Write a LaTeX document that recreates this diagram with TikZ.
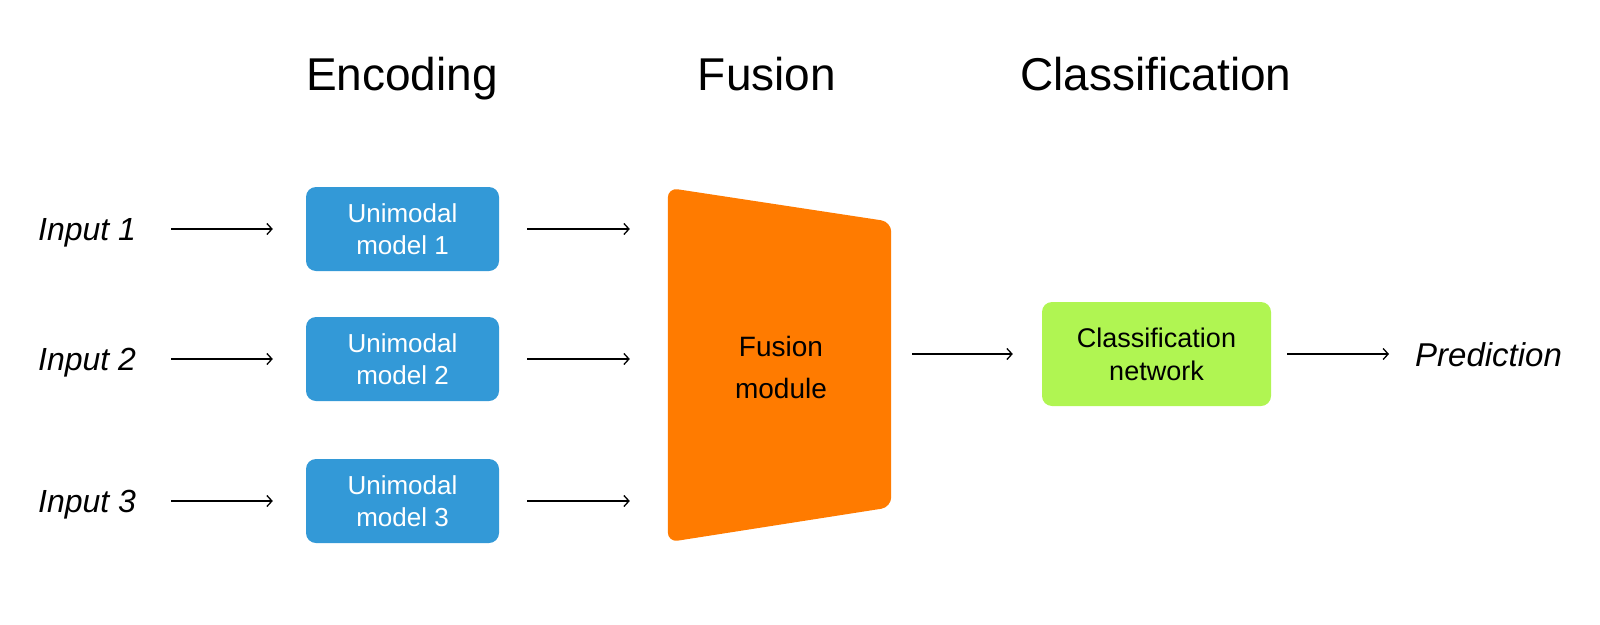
\documentclass[tikz,border=0pt]{standalone}
\usepackage{fontspec}
\setmainfont{Liberation Sans}
\usetikzlibrary{arrows.meta,calc}
\definecolor{uniblue}{RGB}{51,153,215}
\definecolor{fusorange}{RGB}{255,123,0}
\definecolor{clsgreen}{RGB}{176,245,82}
\tikzset{
  header/.style={font=\fontsize{46}{50}\selectfont, anchor=base, inner sep=0},
  inputtxt/.style={font=\fontsize{32}{36}\selectfont\itshape, anchor=base west, inner sep=0},
  unibox/.style={fill=uniblue, rounded corners=10, minimum width=193, minimum height=84, inner sep=0,
    text=white, align=center, font=\fontsize{26}{32}\selectfont},
  clsbox/.style={fill=clsgreen, rounded corners=10, minimum width=229, minimum height=104, inner sep=0,
    text=black, align=center, font=\fontsize{27}{33}\selectfont},
  arr/.style={line width=1.3, -{Straight Barb[length=5,width=11]}},
}
\begin{document}
\begin{tikzpicture}[x=1pt,y=-1pt]
\useasboundingbox (0,0) rectangle (1600,624);
% headers
\node[header] (hEnc) at (402,90) {Encoding};
\node[header] (hFus) at (767,90) {Fusion};
\node[header] (hCls) at (1156,90) {Classification};
% inputs
\node[inputtxt] (in1) at (38,240.5) {Input 1};
\node[inputtxt] (in2) at (38,370.5) {Input 2};
\node[inputtxt] (in3) at (38,512.5) {Input 3};
% unimodal boxes
\node[unibox] (b1) at (402.5,229) {Unimodal\\model 1};
\node[unibox] (b2) at (402.5,359) {Unimodal\\model 2};
\node[unibox] (b3) at (402.5,501) {Unimodal\\model 3};
% fusion module
\node[minimum width=223, minimum height=354, inner sep=0] (fus) at (779.5,365) {};
\fill[fusorange, rounded corners=10]
  (fus.north west) -- ($(fus.north east)+(0,34)$) -- ($(fus.south east)+(0,-35)$) -- (fus.south west) -- cycle;
\node[align=center, font=\fontsize{28}{42}\selectfont, inner sep=0] (fusT) at (781,367) {Fusion\\module};
% classification
\node[clsbox] (cls) at (1156.5,354) {Classification\\network};
\node[font=\fontsize{33}{36}\selectfont\itshape, anchor=base west, inner sep=0] (pred) at (1415,366) {Prediction};
% arrows
\foreach \i in {1,2,3}{
  \draw[arr, shorten <=35, shorten >=33] (in\i.east |- b\i.west) -- (b\i.west);
  \draw[arr, shorten <=28, shorten >=38] (b\i.east) -- (fus.west |- b\i.east);
}
\draw[arr, shorten <=21, shorten >=29] (fus.east |- cls.west) -- (cls.west);
\draw[arr, shorten <=16, shorten >=26] (cls.east) -- (pred.west |- cls.east);
\end{tikzpicture}
\end{document}
